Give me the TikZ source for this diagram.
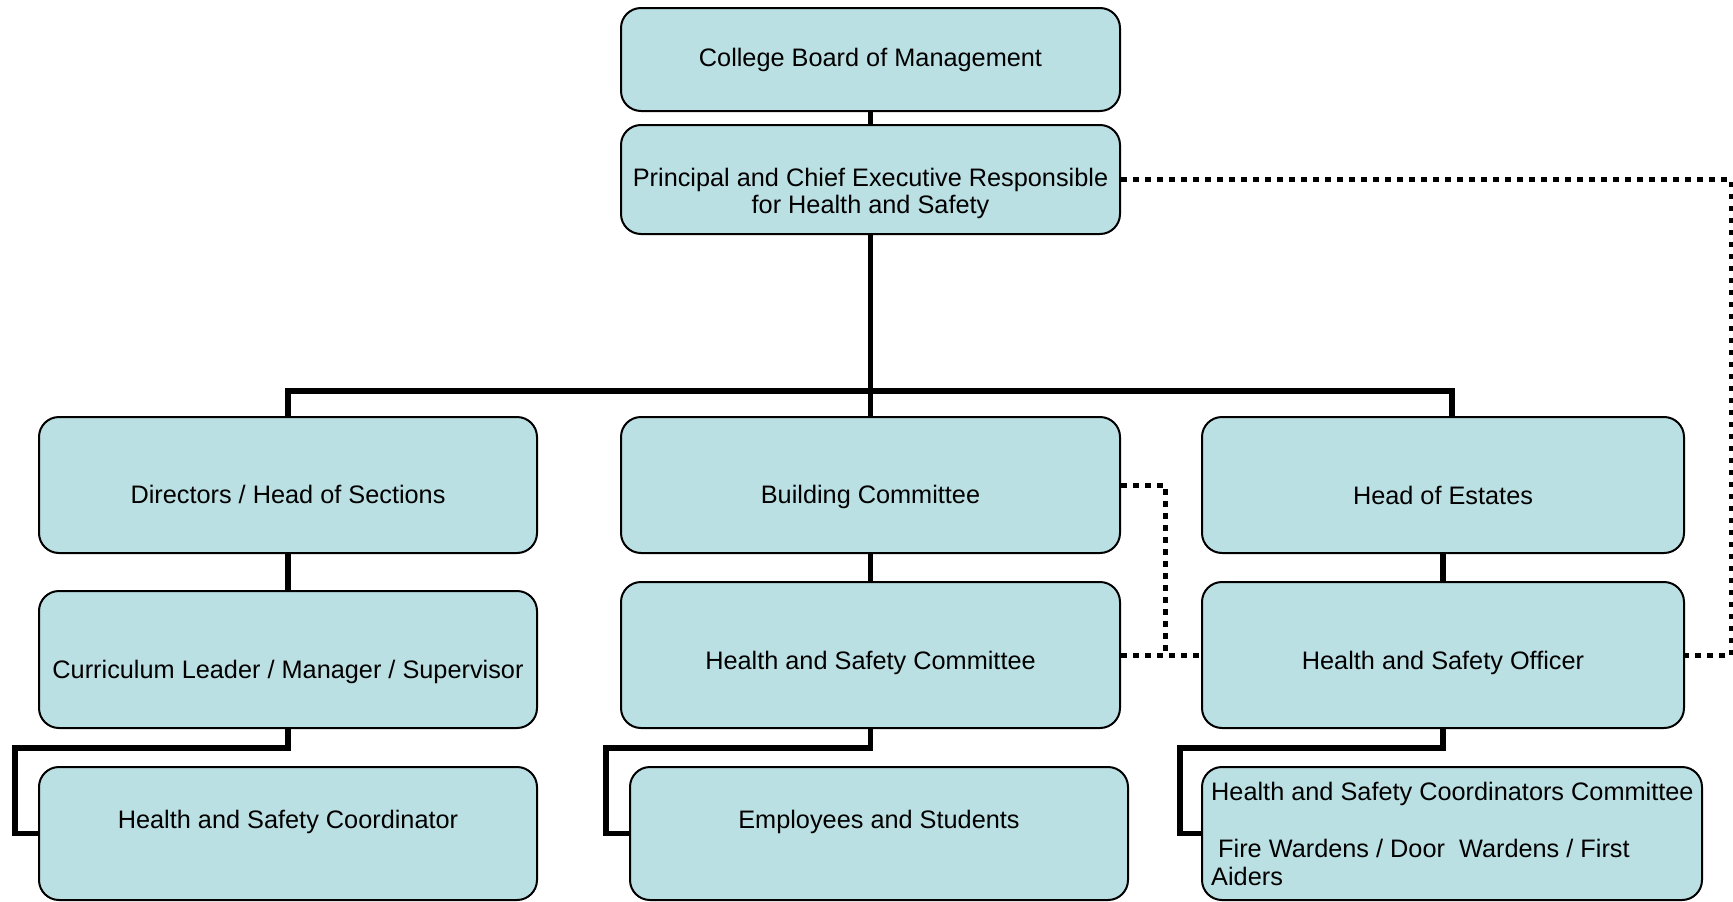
\documentclass[tikz,border=0pt]{standalone}
\usepackage{fontspec}
\setmainfont{Liberation Sans}
\definecolor{boxfill}{RGB}{187,224,227}
\begin{document}
\begin{tikzpicture}[x=1pt,y=-1pt,
  box/.style={draw=black, line width=2pt, fill=boxfill, rounded corners=20pt, inner sep=0pt},
  lbl/.style={font=\fontsize{25.3}{28.5}\selectfont, inner sep=0pt, anchor=base},
  lbll/.style={lbl, anchor=base west},
  link/.style={line width=5.5pt, line join=miter},
  dotlink/.style={line width=5pt, dash pattern=on 5.5pt off 6.5pt}]
\useasboundingbox (0,0) rectangle (1733,902);

% boxes
\node[box, minimum width=499pt, minimum height=103pt] (A)   at (870.5,59.5) {};
\node[box, minimum width=499pt, minimum height=109pt] (B)   at (870.5,179.5) {};
\node[box, minimum width=498pt, minimum height=136pt] (C)   at (288,485) {};
\node[box, minimum width=498pt, minimum height=137pt] (D)   at (288,659.5) {};
\node[box, minimum width=498pt, minimum height=133pt] (E)   at (288,833.5) {};
\node[box, minimum width=499pt, minimum height=136pt] (BC)  at (870.5,485) {};
\node[box, minimum width=499pt, minimum height=146pt] (HSC) at (870.5,655) {};
\node[box, minimum width=498pt, minimum height=133pt] (Emp) at (879,833.5) {};
\node[box, minimum width=482pt, minimum height=136pt] (HoE) at (1443,485) {};
\node[box, minimum width=482pt, minimum height=146pt] (HSO) at (1443,655) {};
\node[box, minimum width=500pt, minimum height=133pt] (HSCC) at (1452,833.5) {};

% labels
\node[lbl] (tA)  at (870.5,66) {College Board of Management};
\node[lbl] (tB1) at (870.5,186) {Principal and Chief Executive Responsible};
\node[lbl] (tB2) at (870.5,213) {for Health and Safety};
\node[lbl] (tC)  at (288,503) {Directors / Head of Sections};
\node[lbl] (tD)  at (288,678) {Curriculum Leader / Manager / Supervisor};
\node[lbl] (tE)  at (288,828) {Health and Safety Coordinator};
\node[lbl] (tBC) at (870.5,503) {Building Committee};
\node[lbl] (tHSC) at (870.5,669) {Health and Safety Committee};
\node[lbl] (tEmp) at (879,828) {Employees and Students};
\node[lbl] (tHoE) at (1443,504) {Head of Estates};
\node[lbl] (tHSO) at (1443,669) {Health and Safety Officer};
\node[lbll] (tH1) at (1211,800) {Health and Safety Coordinators Committee};
\node[lbll] (tH2) at (1218,857) {Fire Wardens / Door\ \ Wardens / First};
\node[lbll] (tH3) at (1211,885.5) {Aiders};

% line management
\coordinate (busL) at (288,391);
\coordinate (busR) at (1452,391);
\draw[link] (A.south) -- (B.north);
\draw[link] (B.south) -- (BC.north);
\draw[link] (C.north) -- (busL) -- (busR) -- (busR |- HoE.north);
\draw[link] (C.south) -- (D.north);
\draw[link] (BC.south) -- (HSC.north);
\draw[link] (HoE.south) -- (HSO.north);

\coordinate (eL) at (15,748);
\coordinate (mL) at (606,748);
\coordinate (rL) at (1180,748);
\draw[link] (D.south) |- (eL) -- (eL |- E.west) -- (E.west);
\draw[link] (HSC.south) |- (mL) -- (mL |- Emp.west) -- (Emp.west);
\draw[link] (HSO.south) |- (rL) -- (rL |- HSCC.west) -- (HSCC.west);

% advisory links
\coordinate (dTR) at (1731,179.5);
\coordinate (dBC) at (1165,485);
\draw[dotlink] (B.east) -- (dTR) -- (dTR |- HSO.east) -- (HSO.east);
\draw[dotlink] (BC.east) -- (dBC) -- (dBC |- HSC.east);
\draw[dotlink] (HSC.east) -- (HSO.west);
\end{tikzpicture}
\end{document}
